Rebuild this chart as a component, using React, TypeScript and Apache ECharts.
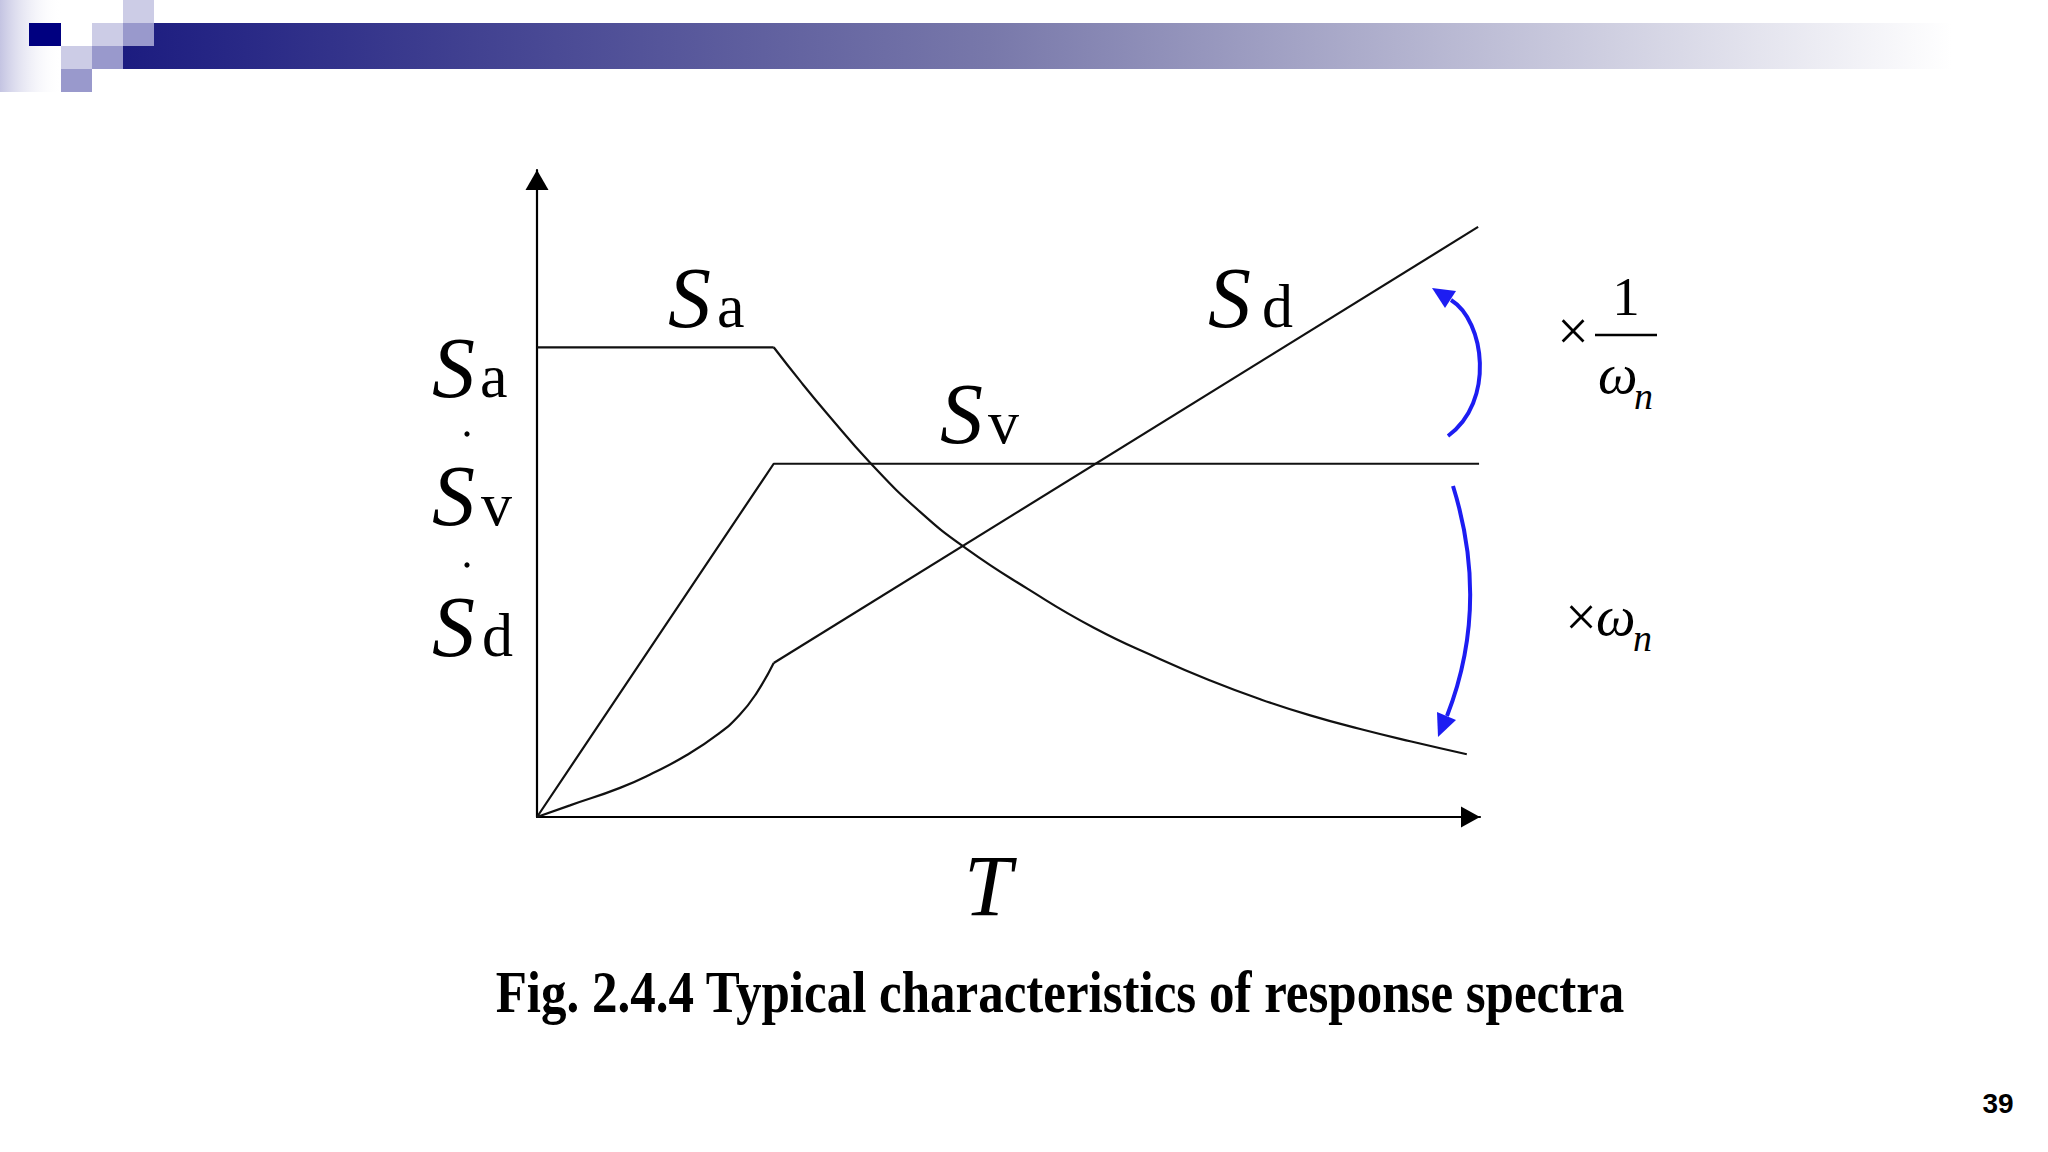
import React, { useEffect, useRef } from 'react';
import * as echarts from 'echarts';

// ---- data (T on x, spectral value on y, arbitrary units 0..10) ----
const saPlateau: number[][] = [[0, 7.26], [2.51, 7.26]];
const saDecay: number[][] = [
  [2.51, 7.26], [2.79, 6.74], [3.08, 6.23], [3.53, 5.48], [4.06, 4.72], [4.56, 4.14],
  [5.2, 3.53], [5.9, 2.93], [6.61, 2.44], [7.14, 2.11], [7.67, 1.82], [8.2, 1.57],
  [8.73, 1.36], [9.26, 1.17], [9.86, 0.97],
];
const svPoints: number[][] = [[0, 0], [2.51, 5.46], [9.99, 5.46]];
const sdRise: number[][] = [
  [0, 0], [0.35, 0.18], [0.88, 0.45], [1.23, 0.68], [1.58, 0.95], [1.92, 1.28],
  [2.15, 1.58], [2.33, 1.92], [2.51, 2.38],
];
const sdLine: number[][] = [[2.51, 2.38], [9.98, 9.12]];
const xRange = [0, 10];
const yRange = [0, 10];
const captionText = 'Fig. 2.4.4 Typical characteristics of response spectra';
const pageNumber = '39';

const SERIF = "'Liberation Serif', 'Times New Roman', serif";
const SANS = "'Liberation Sans', Arial, sans-serif";
const BLUE = '#1d1df2';

function txt(text: string, x: number, y: number, fs: number, extra: any = {}) {
  const align = extra.align || 'left';
  return {
    type: 'text',
    x,
    y,
    z: 10,
    scaleX: extra.scaleX || 1,
    style: {
      text,
      fontSize: fs,
      fontFamily: extra.family || SERIF,
      fontStyle: extra.italic ? 'italic' : 'normal',
      fontWeight: extra.bold ? 'bold' : 'normal',
      fill: '#000',
      textAlign: align,
      align,
      textVerticalAlign: 'middle',
      verticalAlign: 'middle',
    },
  };
}

function rect(x: number, y: number, w: number, h: number, fill: any) {
  return { type: 'rect', z: 5, shape: { x, y, width: w, height: h }, style: { fill } };
}

function lineSeries(data: number[][], smooth: boolean) {
  return {
    type: 'line',
    data,
    smooth: smooth ? 0.5 : false,
    symbol: 'none',
    clip: false,
    silent: true,
    lineStyle: { color: '#111', width: 2.2 },
  };
}

export default function App() {
  const ref = useRef<HTMLDivElement>(null);
  useEffect(() => {
    if (!ref.current) return;
    const chart = echarts.init(ref.current, null, { renderer: 'svg' });
    const axisCommon = {
      type: 'value',
      axisTick: { show: false },
      axisLabel: { show: false },
      splitLine: { show: false },
    };
    const graphic: any[] = [
      // header decoration
      rect(0, 0, 62, 92, new echarts.graphic.LinearGradient(0, 0, 1, 0, [
        { offset: 0, color: 'rgba(196,196,226,1)' },
        { offset: 1, color: 'rgba(255,255,255,0)' },
      ])),
      rect(123, 23, 1925, 46, new echarts.graphic.LinearGradient(0, 0, 1, 0, [
        { offset: 0, color: '#1c1c80' },
        { offset: 0.45, color: '#7878aa' },
        { offset: 0.95, color: '#ffffff' },
        { offset: 1, color: '#ffffff' },
      ])),
      rect(29, 23, 32, 23, '#000080'),
      rect(123, 0, 31, 23, '#cccce6'),
      rect(92, 23, 31, 23, '#cccce6'),
      rect(61, 46, 31, 23, '#cccce6'),
      rect(123, 23, 31, 23, '#9999cc'),
      rect(92, 46, 31, 23, '#9999cc'),
      rect(61, 69, 31, 23, '#9999cc'),
      // curve labels
      txt('S', 668, 298, 86, { italic: true }),
      txt('a', 717, 306, 62),
      txt('S', 1208, 298, 86, { italic: true }),
      txt('d', 1262, 306, 62),
      txt('S', 940, 414, 86, { italic: true }),
      txt('v', 988, 422, 62),
      // axis labels
      txt('S', 432, 368, 86, { italic: true }),
      txt('a', 480, 376, 62),
      { type: 'circle', z: 10, shape: { cx: 467, cy: 434, r: 2.6 }, style: { fill: '#000' } },
      txt('S', 432, 496, 86, { italic: true }),
      txt('v', 481, 504, 62),
      { type: 'circle', z: 10, shape: { cx: 467, cy: 565, r: 2.6 }, style: { fill: '#000' } },
      txt('S', 432, 627, 86, { italic: true }),
      txt('d', 482, 635, 62),
      txt('T', 964, 886, 86, { italic: true }),
      // conversion factors
      txt('×', 1573, 331, 56, { align: 'center' }),
      txt('1', 1626, 296, 55, { align: 'center' }),
      { type: 'line', z: 10, shape: { x1: 1595, y1: 335, x2: 1657, y2: 335 }, style: { stroke: '#000', lineWidth: 2.5 } },
      txt('ω', 1598, 374, 56, { italic: true }),
      txt('n', 1634, 396, 38, { italic: true }),
      txt('×', 1581, 617, 56, { align: 'center' }),
      txt('ω', 1596, 616, 56, { italic: true }),
      txt('n', 1633, 638, 38, { italic: true }),
      // blue arrows
      {
        type: 'bezierCurve', z: 10,
        shape: { x1: 1448, y1: 436, cpx1: 1495, cpy1: 402, cpx2: 1485, cpy2: 321, x2: 1451, y2: 300 },
        style: { stroke: BLUE, lineWidth: 4, fill: 'none' },
      },
      { type: 'polygon', z: 10, shape: { points: [[1432, 288], [1456, 291], [1445, 308]] }, style: { fill: BLUE } },
      {
        type: 'bezierCurve', z: 10,
        shape: { x1: 1453, y1: 486, cpx1: 1477, cpy1: 563, cpx2: 1477, cpy2: 639, x2: 1447, y2: 716 },
        style: { stroke: BLUE, lineWidth: 4, fill: 'none' },
      },
      { type: 'polygon', z: 10, shape: { points: [[1438, 737], [1456, 720], [1437, 712]] }, style: { fill: BLUE } },
      // caption & page number
      txt(captionText, 1060, 992, 60, { bold: true, align: 'center', scaleX: 0.85 }),
      txt(pageNumber, 1998, 1103, 28, { bold: true, align: 'center', family: SANS }),
    ];
    chart.setOption({
      animation: false,
      backgroundColor: '#ffffff',
      grid: { left: 537, top: 170, width: 943, height: 647, containLabel: false },
      xAxis: {
        ...axisCommon,
        min: xRange[0],
        max: xRange[1],
        axisLine: {
          show: true,
          onZero: false,
          symbol: ['none', 'triangle'],
          symbolSize: [21, 19],
          symbolOffset: [0, -9.5],
          lineStyle: { color: '#000', width: 2.2 },
        },
      },
      yAxis: {
        ...axisCommon,
        min: yRange[0],
        max: yRange[1],
        axisLine: {
          show: true,
          onZero: false,
          symbol: ['none', 'triangle'],
          symbolSize: [23, 20],
          symbolOffset: [0, -10],
          lineStyle: { color: '#000', width: 2.2 },
        },
      },
      series: [
        lineSeries(saPlateau, false),
        lineSeries(saDecay, true),
        lineSeries(svPoints, false),
        lineSeries(sdRise, true),
        lineSeries(sdLine, false),
      ],
      graphic,
    });
    return () => chart.dispose();
  }, []);
  return (
    <div
      ref={ref}
      style={{ position: 'fixed', left: 0, top: 0, width: 2048, height: 1152, background: '#fff' }}
    />
  );
}
